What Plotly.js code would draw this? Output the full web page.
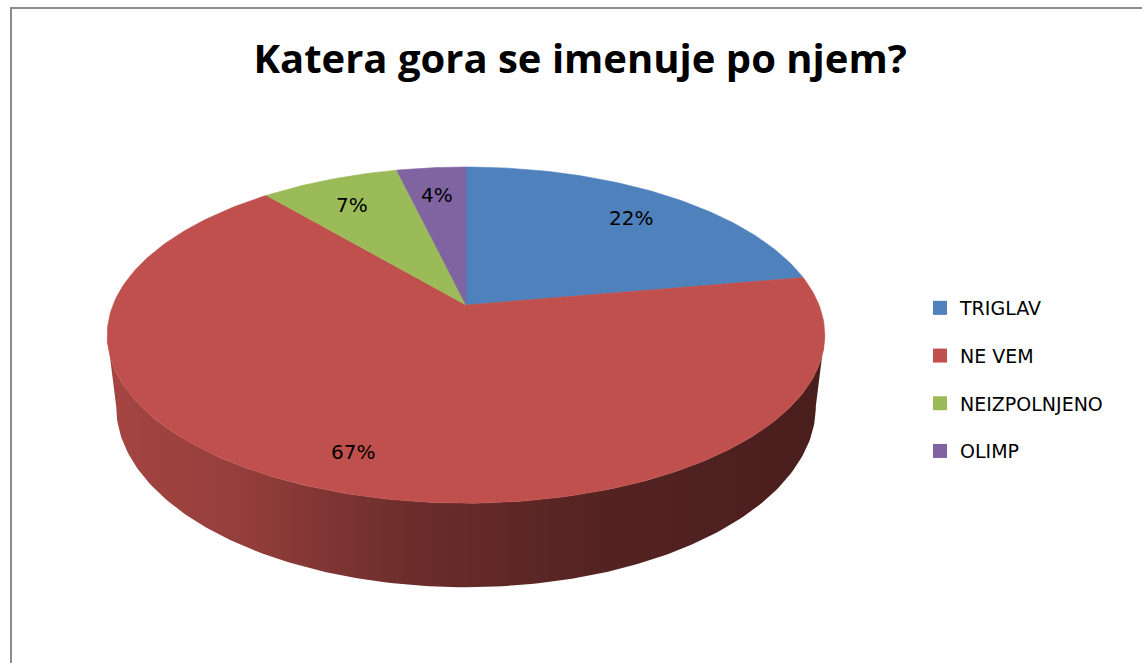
<!DOCTYPE html>
<html><head><meta charset="utf-8">
<script src="https://cdn.plot.ly/plotly-3.0.1.min.js"></script>
<style>html,body{margin:0;padding:0;background:#fff;overflow:hidden}</style>
</head><body>
<div id="chart" style="width:1142px;height:663px"></div>
<script>
// ---- data ----
const categories = ['TRIGLAV', 'NE VEM', 'NEIZPOLNJENO', 'OLIMP'];
const counts = [6, 18, 2, 1];
const colors = ['#4f81bd', '#c0504d', '#9bbb59', '#8064a2'];
const titleText = 'Katera gora se imenuje po njem?';

// ---- 3D pie geometry (pixel space of the hidden axes) ----
const CX = 466, CY = 305, A = 353, B = 162.7, K = 0.179, DEPTH = 69, BOTSCALE = 0.975;
const LABEL_R = 0.81;
function proj(tDeg, r) {
  const rad = tDeg * Math.PI / 180;
  const u = r * Math.sin(rad), v = r * Math.cos(rad), w = 1 + K * v;
  return [CX + A * u / w, CY - B * v / w, w];
}
function hexToRgb(h) { h = h.replace('#', ''); return [0, 2, 4].map(i => parseInt(h.substr(i, 2), 16)); }
function shade(h, f) { const c = hexToRgb(h); return 'rgb(' + c.map(x => Math.round(x * f)).join(',') + ')'; }

const total = counts.reduce((a, b) => a + b, 0);
const traces = [];
const annotations = [];
const tL = Math.acos(-K) * 180 / Math.PI, tR = 360 - tL;
const xMin = CX - A / Math.sqrt(1 - K * K), xMax = CX + A / Math.sqrt(1 - K * K);

let start = 0;
const slices = counts.map((c, i) => {
  const s = start, e = start + c / total * 360; start = e; return { s, e, i };
});

// side walls
slices.forEach(({ s, e, i }) => {
  const a0 = Math.max(s, tL), a1 = Math.min(e, tR);
  if (a1 <= a0) return;
  const xs = [], ys = [];
  const n = Math.max(4, Math.ceil((a1 - a0) / 1));
  for (let j = 0; j <= n; j++) { const t = a0 + (a1 - a0) * j / n; const [x, y] = proj(t, 1); xs.push(x); ys.push(y); }
  for (let j = n; j >= 0; j--) { const t = a0 + (a1 - a0) * j / n; const [x, y, w] = proj(t, 1); xs.push(CX + (x - CX) * BOTSCALE); ys.push(y + DEPTH / w); }
  const col = colors[i];
  traces.push({
    type: 'scatter', x: xs, y: ys, mode: 'lines', fill: 'toself', line: { width: 0, color: shade(col, 0.6) },
    fillcolor: shade(col, 0.6),
    fillgradient: { type: 'horizontal', start: xMin, stop: xMax,
      colorscale: [[0, shade(col, 0.86)], [0.19, shade(col, 0.77)], [0.41, shade(col, 0.57)], [0.68, shade(col, 0.44)], [1, shade(col, 0.38)]] },
    hoverinfo: 'skip', showlegend: false
  });
});

// top faces
slices.forEach(({ s, e, i }) => {
  const xs = [CX], ys = [CY];
  const n = Math.max(4, Math.ceil((e - s) / 1));
  for (let j = 0; j <= n; j++) { const [x, y] = proj(s + (e - s) * j / n, 1); xs.push(x); ys.push(y); }
  xs.push(CX); ys.push(CY);
  traces.push({
    type: 'scatter', x: xs, y: ys, mode: 'lines', fill: 'toself',
    line: { width: 0.6, color: colors[i] }, fillcolor: colors[i], hoverinfo: 'skip', showlegend: false
  });
  const [lx, ly] = proj((s + e) / 2, LABEL_R);
  annotations.push({ x: lx, y: ly, xref: 'x', yref: 'y', showarrow: false, yshift: -4,
    text: Math.round(counts[i] / total * 100) + '%', font: { family: 'DejaVu Sans, sans-serif', size: 20, color: '#000' } });
});

// legend entries
categories.forEach((name, i) => {
  traces.push({ type: 'scatter', x: [null], y: [null], mode: 'markers', name: name,
    marker: { symbol: 'square', size: 14, color: colors[i] }, legendgroup: 'g' + i, hoverinfo: 'skip' });
});

const layout = {
  width: 1142, height: 663,
  margin: { l: 0, r: 0, t: 0, b: 0 },
  paper_bgcolor: '#fff', plot_bgcolor: '#fff',
  xaxis: { range: [0, 1142], visible: false, fixedrange: true },
  yaxis: { range: [663, 0], visible: false, fixedrange: true },
  title: { text: titleText, x: 0.508, xanchor: 'center', yref: 'container', y: 1 - 59 / 663, yanchor: 'middle',
    font: { family: 'Open Sans, sans-serif', size: 40, weight: 'bold', color: '#000' } },
  showlegend: true,
  legend: { x: 920 / 1142, xanchor: 'left', y: 1 - 289 / 663, yanchor: 'top', tracegroupgap: 20,
    font: { family: 'DejaVu Sans, sans-serif', size: 19, color: '#000' }, bgcolor: 'rgba(0,0,0,0)' },
  annotations: annotations,
  shapes: [{ type: 'rect', xref: 'x', yref: 'y', x0: 11, y0: 8, x1: 1170, y1: 700, line: { color: '#8c8c8c', width: 2 } }],
  hovermode: false
};
Plotly.newPlot('chart', traces, layout, { displayModeBar: false, staticPlot: true });
</script>
</body></html>
